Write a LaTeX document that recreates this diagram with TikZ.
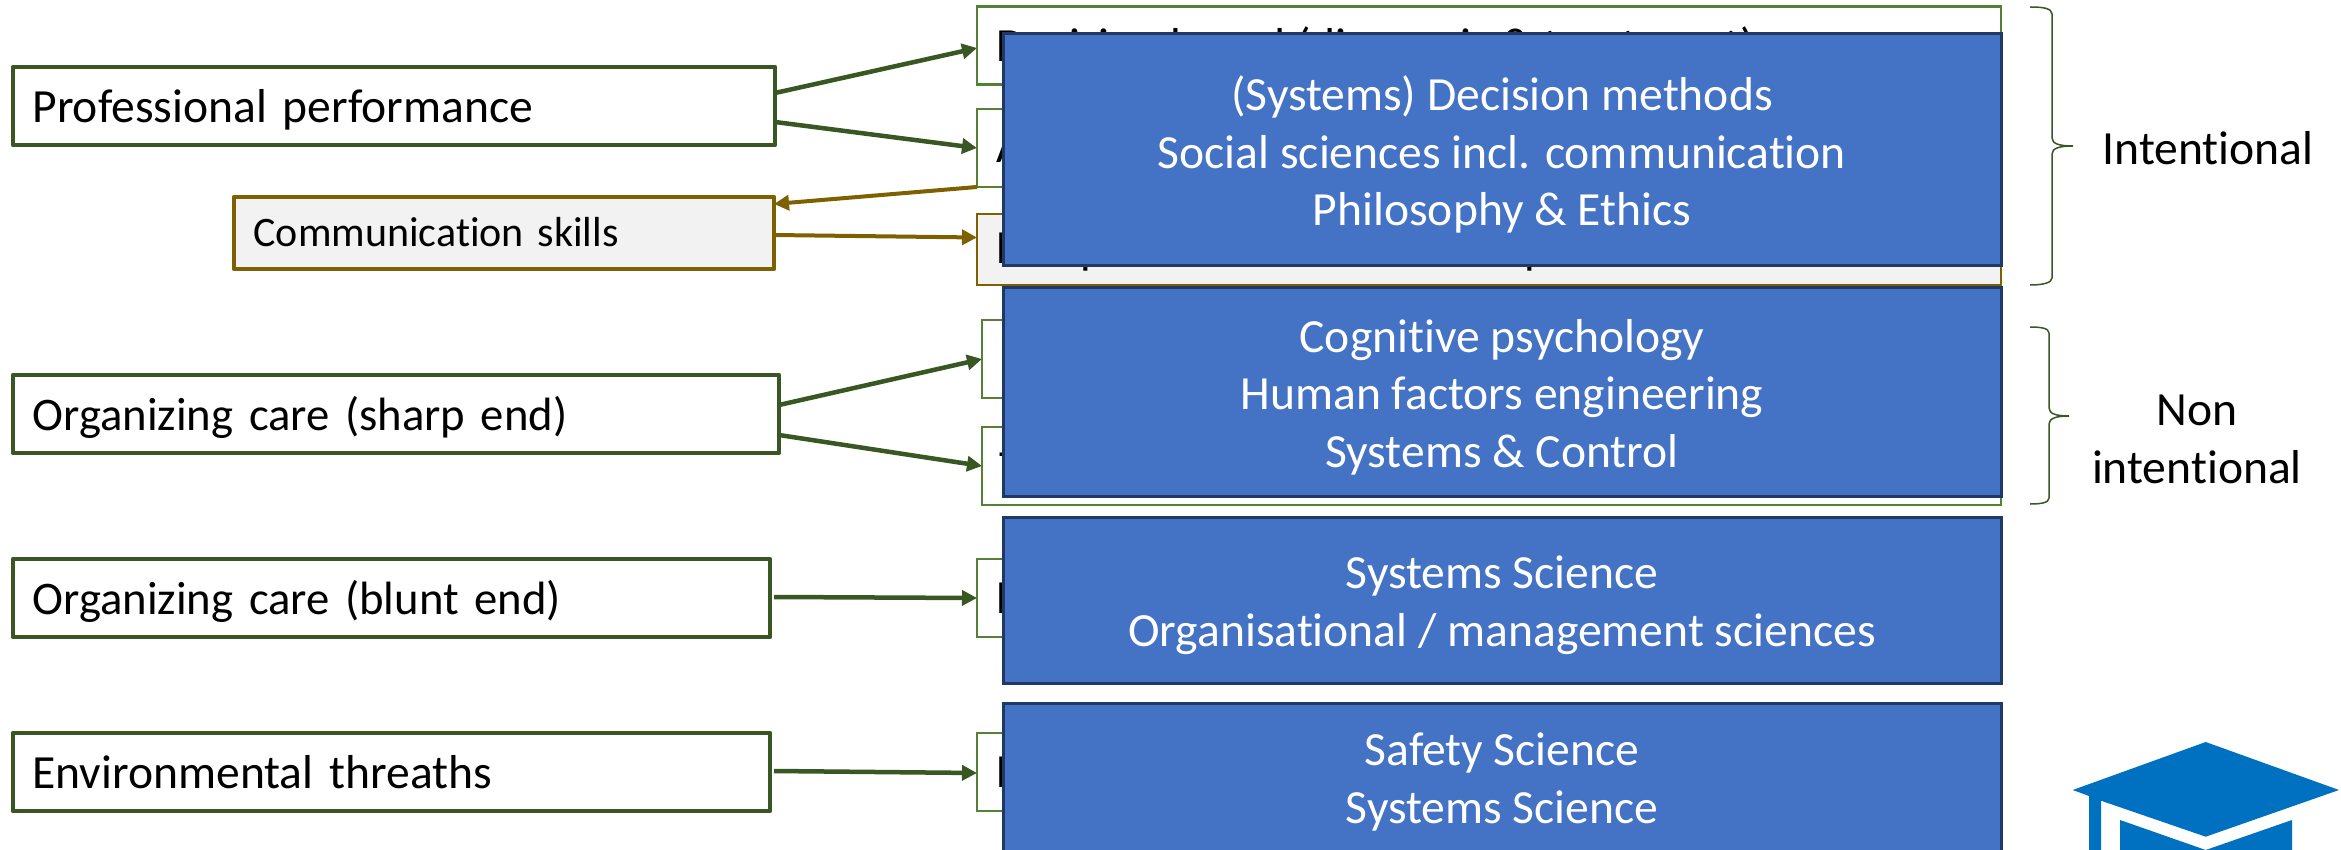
\documentclass[tikz,border=0pt]{standalone}
\usepackage{fontspec}
\setmainfont{Carlito}[Ligatures=CommonOff]
\usetikzlibrary{arrows.meta}
\definecolor{dkgreen}{HTML}{385723}
\definecolor{ltgreen}{HTML}{548235}
\definecolor{brownline}{HTML}{7F6000}
\definecolor{paleg}{HTML}{F2F2F2}
\definecolor{bluefill}{HTML}{4472C4}
\definecolor{blueline}{HTML}{1F3864}
\definecolor{capblue}{HTML}{0070C0}
\newcommand{\bigtxt}{\fontsize{47.6}{57.5}\selectfont}
\newcommand{\midtxt}{\fontsize{46.7}{57}\selectfont}
\newcommand{\smalltxt}{\fontsize{42}{50}\selectfont}
\newcommand{\topstrut}[1][47]{\rule{0pt}{#1pt}}
\newcommand{\botstrut}{\rule[-12pt]{0pt}{12pt}}
\tikzset{
  x=1pt,y=-1pt,
  leftbox/.style={draw=dkgreen,line width=4.5pt,fill=white,rectangle,outer sep=0pt,inner sep=0pt,
    inner xsep=19.5pt,text width=#1-39pt,minimum width=#1,minimum height=78pt,align=left,
    font=\bigtxt,text height=33pt,text depth=0pt,line join=round},
  commbox/.style={draw=brownline,line width=4.5pt,fill=paleg,rectangle,outer sep=0pt,inner sep=0pt,
    inner xsep=19.5pt,text width=#1-39pt,minimum width=#1,minimum height=72pt,align=left,
    font=\smalltxt,text height=28pt,text depth=0pt,line join=round},
  midbox/.style={draw=ltgreen,line width=2.5pt,fill=white,rectangle,outer sep=0pt,inner sep=0pt,
    minimum width=#1,minimum height=78pt},
  graybox/.style={draw=brownline,line width=2.5pt,fill=paleg,rectangle,outer sep=0pt,inner sep=0pt,
    minimum width=#1,minimum height=71pt},
  bluebox/.style={draw=blueline,line width=3pt,fill=bluefill,rectangle,outer sep=0pt,inner sep=0pt,
    minimum width=998pt,text=white,align=center,font=\bigtxt},
  peek/.style={anchor=base west,inner sep=0pt,outer sep=0pt,font=\bigtxt,text=black},
  label/.style={inner sep=0pt,outer sep=0pt,align=center,font=\bigtxt,text=black},
  greenarrow/.style={draw=dkgreen,line width=4.5pt,-{Triangle[length=15pt,width=15pt]}},
  brownarrow/.style={draw=brownline,line width=4pt,-{Triangle[length=15pt,width=15pt]}},
  bracepath/.style={draw=dkgreen,line width=1.5pt},
  capshape/.style={fill=capblue,draw=none},
}
\begin{document}
\begin{tikzpicture}
\useasboundingbox (0,0) rectangle (2341,850);
\clip (0,0) rectangle (2341,850);
\fill[white] (0,0) rectangle (2341,850);
% right-hand boxes
\node[midbox=1024pt] (dec) at (1489,45.5) {};
\node[midbox=1024pt] (acc) at (1489,148) {};
\node[graybox=1024pt] (exe) at (1489,249.5) {};
\node[midbox=1019pt] (sla) at (1491.5,359) {};
\node[midbox=1019pt] (tra) at (1491.5,466) {};
\node[midbox=1024pt] (blu) at (1489,598) {};
\node[midbox=1024pt] (env) at (1489,772) {};
% texts mostly hidden by the blue boxes
\node[peek] (tdec) at (996,62) {Decision based (diagnosis \& treatment)};
\node[peek] (tacc) at (996,163) {A};
\node[peek] (texe) at (996,263) {D};
\node[peek] (pone) at (1080,263) {p};
\node[peek] (ptwo) at (1524,263) {p};
\node[peek] (ttra) at (999,483) {T};
\node[peek] (tblu) at (996,613) {D};
\node[peek] (tenv) at (996,787) {D};
% left-hand boxes
\node[leftbox=762pt] (prof) at (394,106) {Professional performance};
\node[commbox=540pt] (comm) at (504,233) {Communication skills};
\node[leftbox=766pt,font=\midtxt] (sharp) at (396,414) {Organizing care (sharp end)};
\node[leftbox=757pt,font=\midtxt] (blunt) at (391.5,598) {Organizing care (blunt end)};
\node[leftbox=757pt] (threat) at (391.5,772) {Environmental threaths};
% connectors
\draw[greenarrow] ([yshift=13pt]prof.east) -- ([yshift=-2.5pt]dec.west);
\draw[greenarrow] ([yshift=-16pt]prof.east) -- (acc.west);
\draw[brownarrow] (acc.south west) -- ([yshift=29pt]comm.east);
\draw[brownarrow] ([yshift=-2pt]comm.east) -- ([yshift=12pt]exe.west);
\draw[greenarrow] ([yshift=9pt]sharp.east) -- (sla.west);
\draw[greenarrow] ([yshift=-21pt]sharp.east) -- (tra.west);
\draw[greenarrow] ([xshift=4pt,yshift=1pt]blunt.east) -- (blu.west);
\draw[greenarrow] ([xshift=4pt,yshift=1pt]threat.east) -- ([yshift=-1pt]env.west);
% blue boxes
\node[bluebox,minimum height=232pt] (bone) at (1502,150) {\topstrut[49](Systems) Decision methods\\Social sciences incl. communication\\Philosophy \& Ethics\botstrut};
\node[bluebox,minimum height=209pt] (btwo) at (1502,392) {\topstrut Cognitive psychology\\Human factors engineering\\Systems \& Control\botstrut};
\node[bluebox,minimum height=166pt] (bthree) at (1502,600) {\topstrut Systems Science\\Organisational / management sciences\botstrut};
\node[bluebox,minimum height=152pt] (bfour) at (1502,779) {\topstrut[42.5]Safety Science\\Systems Science\botstrut};
% braces
\path[bracepath] (2030,7) .. controls (2042,7) and (2052,8) .. (2052,14)
  -- (2052,138) .. controls (2052,144) and (2060,146) .. (2073,146)
  .. controls (2060,146) and (2052,148) .. (2052,154)
  -- (2052,278) .. controls (2052,283) and (2042,285) .. (2030,285);
\path[bracepath] (2030,327) .. controls (2040,327) and (2049,328) .. (2049,333)
  -- (2049,408) .. controls (2049,414) and (2057,416) .. (2069,416)
  .. controls (2057,416) and (2049,418) .. (2049,424)
  -- (2049,498) .. controls (2049,503) and (2040,504) .. (2030,504);
\node[label] (intent) at (2208,148) {Intentional};
\node[label] (nonint) at (2197,439.5) {Non\\intentional};
% graduation cap
\fill[capshape] (2205.7,742) -- (2339,790) -- (2205.7,836.7) -- (2101,800.7) -- (2101,860) -- (2089,860) -- (2089,796) -- (2072.7,790) -- cycle;
\fill[capshape] (2120,820) -- (2205.7,850) -- (2292,820) -- (2292,860) -- (2120,860) -- cycle;
\end{tikzpicture}
\end{document}
